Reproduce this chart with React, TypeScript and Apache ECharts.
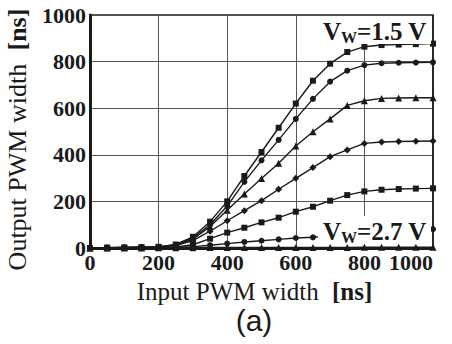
import React, { useEffect, useRef } from "react";
import * as echarts from "echarts";

const inputWidth = [0, 50, 100, 150, 200, 250, 300, 350, 400, 450, 500, 550, 600, 650, 700, 750, 800, 850, 900, 950, 1000];
const vw15 = [0, 1, 2, 3, 5, 15, 48, 113, 200, 309, 412, 516, 620, 718, 791, 841, 864, 871, 873, 875, 877];
const s2 = [0, 1, 2, 3, 5, 14, 44, 100, 180, 284, 376, 464, 554, 640, 714, 761, 785, 793, 795, 796, 797];
const s3 = [0, 1, 2, 3, 4, 12, 38, 92, 162, 232, 298, 364, 438, 499, 554, 612, 632, 642, 644, 645, 645];
const s4 = [0, 1, 2, 3, 4, 10, 32, 72, 117, 160, 203, 252, 299, 345, 392, 421, 449, 455, 457, 458, 459];
const s5 = [0, 1, 1, 2, 3, 5, 14, 40, 66, 87, 110, 130, 156, 177, 203, 227, 243, 250, 253, 255, 256];
const s6 = [0, 0, 1, 1, 2, 3, 6, 12, 19, 26, 31, 37, 43, 46, 52, 58, 64, 70, 74, 78, 81];
const vw27 = [0, 0, 0, 0, 1, 1, 1, 2, 2, 2, 2, 2, 2, 2, 2, 2, 3, 3, 3, 3, 3];

const seriesList = [
  { name: "1.5", data: vw15, symbol: "rect", size: 6 },
  { name: "s2", data: s2, symbol: "circle", size: 6 },
  { name: "s3", data: s3, symbol: "triangle", size: 7 },
  { name: "s4", data: s4, symbol: "diamond", size: 7 },
  { name: "s5", data: s5, symbol: "rect", size: 6 },
  { name: "s6", data: s6, symbol: "circle", size: 6 },
  { name: "2.7", data: vw27, symbol: "triangle", size: 7 },
];

const xTicks = [0, 200, 400, 600, 800, 1000];

const SERIF = "'Liberation Serif', 'Times New Roman', serif";
const INK = "#1a1a1a";

export default function App() {
  const ref = useRef<HTMLDivElement>(null);
  useEffect(() => {
    const chart = echarts.init(ref.current!, null, { renderer: "svg" });
    const labelRich = {
      v: { fontFamily: SERIF, fontWeight: "bold", fontSize: 25, fill: INK, color: INK },
      s: { fontFamily: SERIF, fontWeight: "bold", fontSize: 16, fill: INK, color: INK, padding: [12, 0, 0, 0] },
    };
    const tickLabel = {
      color: INK,
      fontFamily: SERIF,
      fontWeight: "bold",
      fontSize: 22,
      formatter: (v: number) => String(v),
    };
    chart.setOption({
      animation: false,
      grid: {
        left: 90,
        right: 19,
        top: 15,
        bottom: 96,
        show: true,
        borderColor: INK,
        borderWidth: 1.5,
        containLabel: false,
        outerBoundsMode: "none",
      },
      xAxis: {
        type: "value",
        min: 0,
        max: 1000,
        interval: xTicks[1] - xTicks[0],
        axisLine: { show: true, lineStyle: { color: INK, width: 3 } },
        axisTick: { show: false },
        splitLine: { show: true, lineStyle: { color: "#555", width: 1 } },
        axisLabel: { ...tickLabel, margin: 3, alignMaxLabel: "right" },
        name: "{r|Input PWM width}    {b|[ns]}",
        nameLocation: "middle",
        nameGap: 31,
        nameTextStyle: {
          padding: [0, 14, 0, 0],
          rich: {
            r: { fontFamily: SERIF, fontSize: 25, color: INK },
            b: { fontFamily: SERIF, fontSize: 25, fontWeight: "bold", color: INK },
          },
        },
      },
      yAxis: {
        type: "value",
        min: 0,
        max: 1000,
        interval: 200,
        axisLine: { show: true, lineStyle: { color: INK, width: 3 } },
        axisTick: { show: false },
        splitLine: { show: true, lineStyle: { color: "#555", width: 1 } },
        axisLabel: { ...tickLabel, margin: 4 },
        name: "{r|Output PWM width}    {b|[ns]}",
        nameLocation: "middle",
        nameGap: 60,
        nameTextStyle: {
          padding: [0, 16, 0, 0],
          rich: {
            r: { fontFamily: SERIF, fontSize: 26, color: INK },
            b: { fontFamily: SERIF, fontSize: 26, fontWeight: "bold", color: INK },
          },
        },
      },
      series: seriesList.map((s) => ({
        type: "line",
        name: s.name,
        data: inputWidth.map((x, i) => [x, s.data[i]]),
        symbol: s.symbol,
        symbolSize: s.size,
        showAllSymbol: true,
        lineStyle: { color: INK, width: 1.4 },
        itemStyle: { color: INK },
        z: 3,
      })),
      graphic: [
        { type: "rect", z: 100, shape: { x: 318, y: 16, width: 113, height: 28 }, style: { fill: "#fff" } },
        {
          type: "text",
          z: 101,
          x: 323,
          y: 17,
          style: { text: "{v|V}{s|W}{v|=1.5 V}", rich: labelRich },
        },
        { type: "rect", z: 100, shape: { x: 318, y: 216, width: 113, height: 28 }, style: { fill: "#fff" } },
        {
          type: "text",
          z: 101,
          x: 323,
          y: 217,
          style: { text: "{v|V}{s|W}{v|=2.7 V}", rich: labelRich },
        },
        { type: "line", z: 102, shape: { x1: 433, y1: 15, x2: 433, y2: 248 }, style: { stroke: INK, lineWidth: 1.5 } },
        {
          type: "text",
          z: 101,
          x: 254,
          y: 320,
          style: {
            text: "(a)",
            fontFamily: "'Liberation Sans', Arial, sans-serif",
            fontSize: 30,
            fill: INK,
            textAlign: "center",
            textVerticalAlign: "middle",
          },
        },
      ],
    });
    return () => chart.dispose();
  }, []);
  return <div ref={ref} style={{ width: 452, height: 344, position: "absolute", left: 0, top: 0 }} />;
}
